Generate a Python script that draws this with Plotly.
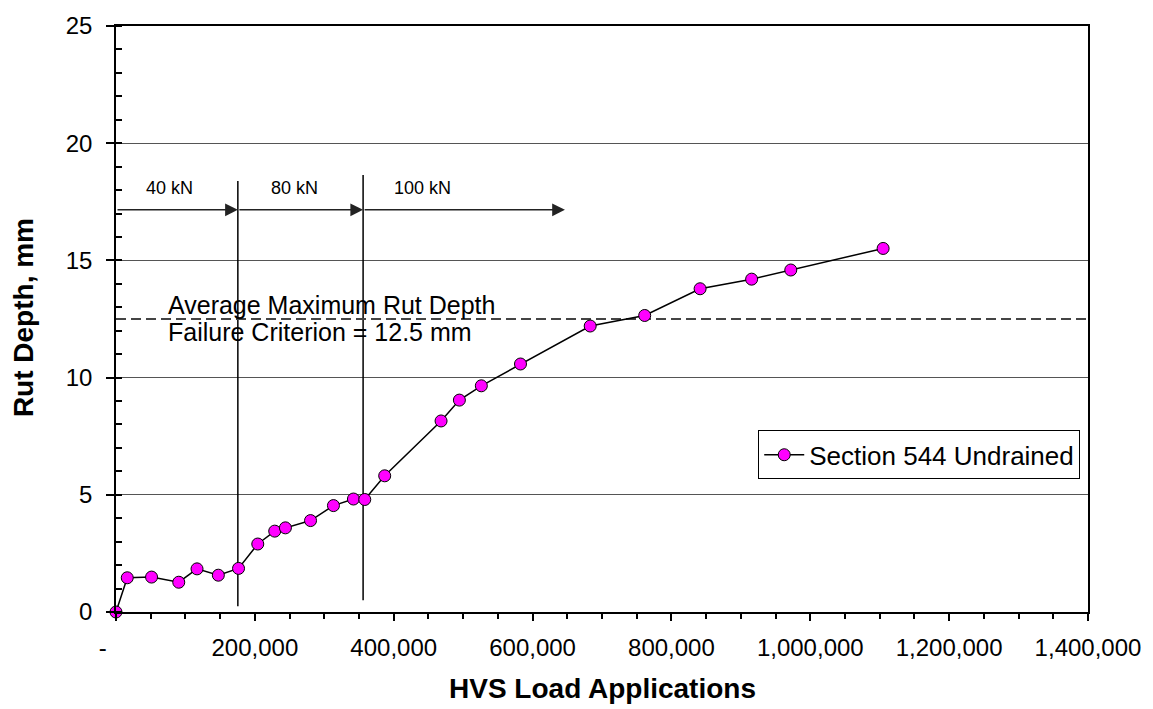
import plotly.graph_objects as go

# ---- data ----
load_apps = [0, 16200, 51200, 90400, 116700, 147400, 176500, 204200, 228600, 244000,
             280200, 313200, 342000, 358300, 387000, 468200, 494600, 526200, 582600,
             683000, 761500, 841300, 915500, 971900, 1104900]
rut_depth = [0.0, 1.46, 1.49, 1.27, 1.84, 1.57, 1.86, 2.90, 3.45, 3.59,
             3.90, 4.54, 4.82, 4.80, 5.81, 8.15, 9.04, 9.65, 10.58,
             12.20, 12.65, 13.79, 14.20, 14.59, 15.51]
series_name = "Section 544 Undrained"

x_tick_vals = [0, 200000, 400000, 600000, 800000, 1000000, 1200000, 1400000]
x_tick_text = ["-\u00a0\u00a0\u00a0\u00a0", "200,000", "400,000", "600,000", "800,000",
               "1,000,000", "1,200,000", "1,400,000"]
y_tick_vals = [0, 5, 10, 15, 20, 25]

# load change markers
load_change_x = [175500, 355900]
load_change_top = [18.39, 18.64]
load_change_bottom = [0.25, 0.50]
load_labels = ["40 kN", "80 kN", "100 kN"]
load_label_x = [77500, 256800, 440900]
load_label_y = 18.08
arrow_start = [0, 175500, 355900]
arrow_end = [175500, 355900, 646600]
arrow_y = 17.16

failure_criterion = 12.5
failure_text = ["Average Maximum Rut Depth", "Failure Criterion = 12.5 mm"]
failure_text_x = 72000
failure_text_y = [13.10, 11.93]

FONT = "Liberation Sans, Arial, sans-serif"

fig = go.Figure()
fig.add_trace(go.Scatter(
    x=load_apps, y=rut_depth, mode="lines+markers", name=series_name,
    line=dict(color="black", width=1.5),
    marker=dict(color="#FF00FF", size=12, line=dict(color="black", width=1)),
    cliponaxis=False,
))

shapes = []
for xv, top, bot in zip(load_change_x, load_change_top, load_change_bottom):
    shapes.append(dict(type="line", xref="x", yref="y", x0=xv, x1=xv, y0=bot, y1=top,
                       line=dict(color="black", width=1.5), layer="between"))
shapes.append(dict(type="line", xref="x", yref="y", x0=0, x1=1400000,
                   y0=failure_criterion, y1=failure_criterion,
                   line=dict(color="#444444", width=2, dash="10px,5px"), layer="between"))

annotations = []
for xs, xe in zip(arrow_start, arrow_end):
    annotations.append(dict(x=xe, y=arrow_y, ax=xs, ay=arrow_y, xref="x", yref="y",
                            axref="x", ayref="y", text="", showarrow=True,
                            arrowhead=2, arrowsize=1.7, arrowwidth=1.5,
                            arrowcolor="#222222", standoff=0, startstandoff=0))
for lab, lx in zip(load_labels, load_label_x):
    annotations.append(dict(x=lx, y=load_label_y, xref="x", yref="y", text=lab,
                            showarrow=False, xanchor="center", yanchor="middle",
                            font=dict(family=FONT, size=18, color="black")))
for t, ty in zip(failure_text, failure_text_y):
    annotations.append(dict(x=failure_text_x, y=ty, xref="x", yref="y", text=t,
                            showarrow=False, xanchor="left", yanchor="middle",
                            font=dict(family=FONT, size=25, color="black")))
annotations.append(dict(x=0.5, y=-0.1308, xref="paper", yref="paper",
                        text="<b>HVS Load Applications</b>", showarrow=False,
                        xanchor="center", yanchor="middle",
                        font=dict(family=FONT, size=28, color="black")))
annotations.append(dict(x=-0.0958, y=0.503, xref="paper", yref="paper",
                        text="<b>Rut Depth, mm</b>", showarrow=False, textangle=-90,
                        xanchor="center", yanchor="middle",
                        font=dict(family=FONT, size=28, color="black")))

fig.update_layout(
    width=1153, height=709,
    margin=dict(l=116, r=61, t=20, b=97),
    paper_bgcolor="white", plot_bgcolor="white",
    font=dict(family=FONT, size=24, color="black"),
    shapes=shapes, annotations=annotations,
    showlegend=True,
    legend=dict(x=0.992, y=0.31, xanchor="right", yanchor="top",
                bgcolor="white", bordercolor="black", borderwidth=1,
                itemwidth=40, tracegroupgap=0,
                font=dict(family=FONT, size=26, color="black")),
)
fig.update_xaxes(
    range=[0, 1400000], tickvals=x_tick_vals, ticktext=x_tick_text,
    showgrid=False, zeroline=False, showline=True, linecolor="black", linewidth=1.5,
    mirror=True, ticks="outside", ticklen=7, tickcolor="black", tickwidth=1.5,
    ticklabelstandoff=6, tickfont=dict(family=FONT, size=24),
    minor=dict(dtick=50000, ticks="outside", ticklen=5, tickcolor="black", tickwidth=1.5,
               showgrid=False),
)
fig.update_yaxes(
    range=[0, 25], tickvals=y_tick_vals,
    showgrid=True, gridcolor="#555555", gridwidth=1,
    zeroline=False, showline=True, linecolor="black", linewidth=1.5, mirror=True,
    ticks="outside", ticklen=8, tickcolor="black", tickwidth=1.5,
    ticklabelstandoff=9, tickfont=dict(family=FONT, size=24),
    minor=dict(dtick=1, ticks="inside", ticklen=6, tickcolor="black", tickwidth=1.5,
               showgrid=False),
)

fig.write_html("out.html")
